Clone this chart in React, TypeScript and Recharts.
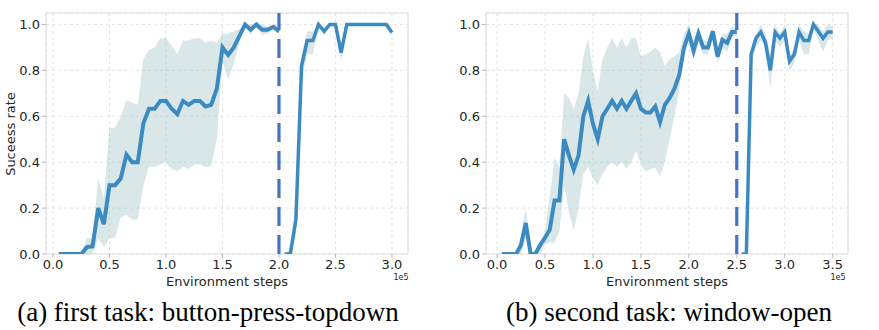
import {
  ComposedChart,
  Line,
  Area,
  XAxis,
  YAxis,
  CartesianGrid,
  ReferenceLine,
  ReferenceArea,
} from "recharts";

// steps in units of 1e5
const leftSteps1 = [
  0.05, 0.1, 0.15, 0.2, 0.25, 0.3, 0.35, 0.4, 0.45, 0.5,
  0.55, 0.6, 0.65, 0.7, 0.75, 0.8, 0.85, 0.9, 0.95, 1.0,
  1.05, 1.1, 1.15, 1.2, 1.25, 1.3, 1.35, 1.4, 1.45, 1.5,
  1.55, 1.6, 1.65, 1.7, 1.75, 1.8, 1.85, 1.9, 1.95, 2.0,
];
const leftMean1 = [
  0, 0, 0, 0, 0, 0.03, 0.033, 0.2, 0.13, 0.3,
  0.3, 0.33, 0.433, 0.4, 0.4, 0.57, 0.633, 0.633, 0.667, 0.667,
  0.633, 0.61, 0.667, 0.65, 0.667, 0.667, 0.643, 0.65, 0.72, 0.9,
  0.867, 0.9, 0.95, 1.0, 0.977, 1.0, 0.977, 0.977, 0.99, 0.97,
];
const leftLow1 = [
  0, 0, 0, 0, 0, 0, 0, 0.07, 0.03, 0.07,
  0.07, 0.16, 0.17, 0.15, 0.15, 0.3, 0.38, 0.38, 0.39, 0.4,
  0.37, 0.36, 0.38, 0.37, 0.39, 0.39, 0.38, 0.38, 0.5, 0.84,
  0.76, 0.83, 0.92, 1.0, 0.955, 1.0, 0.955, 0.96, 0.98, 0.96,
];
const leftHigh1 = [
  0, 0, 0, 0, 0, 0.07, 0.07, 0.33, 0.24, 0.55,
  0.55, 0.6, 0.67, 0.66, 0.65, 0.85, 0.89, 0.9, 0.94, 0.94,
  0.91, 0.87, 0.93, 0.93, 0.94, 0.94, 0.92, 0.93, 0.92, 0.96,
  0.96, 0.97, 0.98, 1.0, 1.0, 1.0, 1.0, 0.99, 1.0, 0.98,
];
const leftSteps2 = [
  2.05, 2.1, 2.15, 2.2, 2.25, 2.3, 2.35, 2.4, 2.45, 2.5,
  2.55, 2.6, 2.65, 2.7, 2.75, 2.8, 2.85, 2.9, 2.95, 3.0,
];
const leftMean2 = [
  0, 0, 0.15, 0.82, 0.93, 0.93, 1.0, 0.97, 1.0, 1.0,
  0.877, 1.0, 1.0, 1.0, 1.0, 1.0, 1.0, 1.0, 1.0, 0.965,
];
const leftLow2 = [
  0, 0, 0.08, 0.76, 0.87, 0.87, 1.0, 0.95, 1.0, 1.0,
  0.84, 1.0, 1.0, 1.0, 1.0, 1.0, 1.0, 1.0, 1.0, 0.95,
];
const leftHigh2 = [
  0, 0.02, 0.25, 0.87, 0.97, 0.97, 1.0, 0.99, 1.0, 1.0,
  0.91, 1.0, 1.0, 1.0, 1.0, 1.0, 1.0, 1.0, 1.0, 0.98,
];

const rightSteps1 = [
  0.05, 0.1, 0.15, 0.2, 0.25, 0.3, 0.35, 0.4, 0.45, 0.5,
  0.55, 0.6, 0.65, 0.7, 0.75, 0.8, 0.85, 0.9, 0.95, 1.0,
  1.05, 1.1, 1.15, 1.2, 1.25, 1.3, 1.35, 1.4, 1.45, 1.5,
  1.55, 1.6, 1.65, 1.7, 1.75, 1.8, 1.85, 1.9, 1.95, 2.0,
  2.05, 2.1, 2.15, 2.2, 2.25, 2.3, 2.35, 2.4, 2.45, 2.5,
];
const rightMean1 = [
  0, 0, 0, 0, 0.04, 0.135, 0, 0, 0.04, 0.07,
  0.106, 0.233, 0.233, 0.5, 0.43, 0.367, 0.43, 0.6, 0.667, 0.567,
  0.5, 0.6, 0.633, 0.667, 0.633, 0.667, 0.633, 0.667, 0.7, 0.633,
  0.617, 0.617, 0.643, 0.575, 0.65, 0.68, 0.72, 0.78, 0.9, 0.96,
  0.885, 0.96, 0.9, 0.9, 0.97, 0.86, 0.933, 0.92, 0.967, 0.967,
];
const rightLow1 = [
  0, 0, 0, 0, 0, 0.07, 0, 0, 0, 0.04,
  0.05, 0.05, 0.1, 0.3, 0.18, 0.1, 0.2, 0.35, 0.38, 0.33,
  0.3, 0.35, 0.38, 0.4, 0.38, 0.4, 0.37, 0.4, 0.45, 0.39,
  0.36, 0.37, 0.375, 0.34, 0.4, 0.5, 0.6, 0.72, 0.87, 0.93,
  0.85, 0.93, 0.87, 0.87, 0.95, 0.83, 0.9, 0.88, 0.95, 0.95,
];
const rightHigh1 = [
  0, 0, 0, 0, 0.08, 0.2, 0, 0, 0.05, 0.1,
  0.25, 0.42, 0.38, 0.7, 0.68, 0.63, 0.7, 0.86, 0.94, 0.8,
  0.71, 0.85, 0.9, 0.94, 0.9, 0.94, 0.9, 0.94, 0.94, 0.86,
  0.87, 0.88, 0.9, 0.88, 0.82, 0.85, 0.86, 0.88, 0.96, 1.0,
  0.93, 0.99, 0.93, 0.93, 0.99, 0.9, 0.96, 0.96, 0.99, 0.99,
];
const rightSteps2 = [
  2.55, 2.6, 2.65, 2.7, 2.75, 2.8, 2.85, 2.9, 2.95, 3.0,
  3.05, 3.1, 3.15, 3.2, 3.25, 3.3, 3.35, 3.4, 3.45, 3.5,
];
const rightMean2 = [
  0, 0, 0.87, 0.94, 0.967, 0.92, 0.8, 0.967, 0.94, 0.967,
  0.84, 0.87, 0.967, 0.93, 0.93, 1.0, 0.97, 0.94, 0.967, 0.967,
];
const rightLow2 = [
  0, 0, 0.83, 0.9, 0.93, 0.9, 0.72, 0.93, 0.9, 0.93,
  0.8, 0.83, 0.93, 0.87, 0.87, 0.98, 0.93, 0.88, 0.93, 0.94,
];
const rightHigh2 = [
  0, 0, 0.9, 0.96, 1.0, 0.96, 0.87, 1.0, 0.96, 1.0,
  0.86, 0.9, 1.0, 0.97, 0.96, 1.0, 1.0, 0.97, 1.0, 0.99,
];

const yTicks = [0, 0.2, 0.4, 0.6, 0.8, 1.0];
const leftXTicks = [0, 0.5, 1.0, 1.5, 2.0, 2.5, 3.0];
const rightXTicks = [0, 0.5, 1.0, 1.5, 2.0, 2.5, 3.0, 3.5];

const LINE = "#3b8bc2";
const BAND = "#a3c4c9";
const DASH = "#4472c4";
const FONT = "'DejaVu Sans', sans-serif";

function buildRows(
  s1: number[], m1: number[], lo1: number[], hi1: number[],
  s2: number[], m2: number[], lo2: number[], hi2: number[]
) {
  const rows: any[] = [];
  s1.forEach((x, i) => rows.push({ x, m1: m1[i], b1: [lo1[i], hi1[i]] }));
  s2.forEach((x, i) => rows.push({ x, m2: m2[i], b2: [lo2[i], hi2[i]] }));
  return rows;
}

const leftRows = buildRows(leftSteps1, leftMean1, leftLow1, leftHigh1, leftSteps2, leftMean2, leftLow2, leftHigh2);
const rightRows = buildRows(rightSteps1, rightMean1, rightLow1, rightHigh1, rightSteps2, rightMean2, rightLow2, rightHigh2);

function Panel({ rows, domain, ticks, split }: { rows: any[]; domain: [number, number]; ticks: number[]; split: number }) {
  return (
    <ComposedChart width={440} height={300} data={rows} margin={{ top: 13, right: 32, bottom: 12, left: 0 }}>
      <CartesianGrid stroke="#dcdcdc" strokeDasharray="3 3" strokeWidth={0.8} />
      <ReferenceArea x1={domain[0]} x2={domain[1]} y1={0} y2={1.05} fill="none" stroke="#dddddd" strokeWidth={1} />
      <XAxis
        dataKey="x"
        type="number"
        domain={domain}
        ticks={ticks}
        allowDataOverflow
        tickFormatter={(v: number) => v.toFixed(1)}
        axisLine={false}
        tickLine={{ stroke: "#bbbbbb" }}
        tickSize={4}
        height={34}
        tick={{ fill: "#262626", fontSize: 13, fontFamily: FONT }}
      />
      <YAxis
        type="number"
        domain={[0, 1.05]}
        ticks={yTicks}
        allowDataOverflow
        tickFormatter={(v: number) => v.toFixed(1)}
        axisLine={false}
        tickLine={{ stroke: "#bbbbbb" }}
        tickSize={4}
        width={46}
        tick={{ fill: "#262626", fontSize: 13, fontFamily: FONT }}
      />
      <Area dataKey="b1" stroke="none" fill={BAND} fillOpacity={0.4} isAnimationActive={false} />
      <Area dataKey="b2" stroke="none" fill={BAND} fillOpacity={0.4} isAnimationActive={false} />
      <Line dataKey="m1" stroke={LINE} strokeWidth={4} dot={false} isAnimationActive={false} />
      <Line dataKey="m2" stroke={LINE} strokeWidth={3.5} dot={false} isAnimationActive={false} />
      <ReferenceLine x={split} stroke={DASH} strokeWidth={3.2} strokeDasharray="19 9" />
    </ComposedChart>
  );
}

const txt: React.CSSProperties = { position: "absolute", whiteSpace: "nowrap", color: "#262626", fontFamily: FONT };
const caption: React.CSSProperties = {
  ...txt,
  fontSize: 27,
  lineHeight: "30px",
  color: "#000",
  fontFamily: "'Liberation Serif', 'Times New Roman', serif",
  transform: "translate(-50%, -50%)",
};

export default function App() {
  return (
    <div style={{ position: "fixed", left: 0, top: 0, width: 879, height: 330, background: "#fff", overflow: "hidden" }}>
      <div style={{ position: "absolute", left: 0, top: 0 }}>
        <Panel rows={leftRows} domain={[-0.062, 3.142]} ticks={leftXTicks} split={2.0} />
      </div>
      <div style={{ position: "absolute", left: 440, top: 0 }}>
        <Panel rows={rightRows} domain={[-0.115, 3.66]} ticks={rightXTicks} split={2.5} />
      </div>

      <div style={{ ...txt, left: 10, top: 134, fontSize: 13, transform: "translate(-50%, -50%) rotate(-90deg)" }}>
        Suceess rate
      </div>
      <div style={{ ...txt, left: 227, top: 281, fontSize: 13, transform: "translate(-50%, -50%)" }}>
        Environment steps
      </div>
      <div style={{ ...txt, left: 667, top: 281, fontSize: 13, transform: "translate(-50%, -50%)" }}>
        Environment steps
      </div>
      <div style={{ ...txt, left: 401, top: 277, fontSize: 8, transform: "translate(-50%, -50%)" }}>1e5</div>
      <div style={{ ...txt, left: 838, top: 277, fontSize: 8, transform: "translate(-50%, -50%)" }}>1e5</div>

      <div style={{ ...caption, left: 208, top: 312 }}>(a) first task: button-press-topdown</div>
      <div style={{ ...caption, left: 669, top: 312 }}>(b) second task: window-open</div>
    </div>
  );
}
